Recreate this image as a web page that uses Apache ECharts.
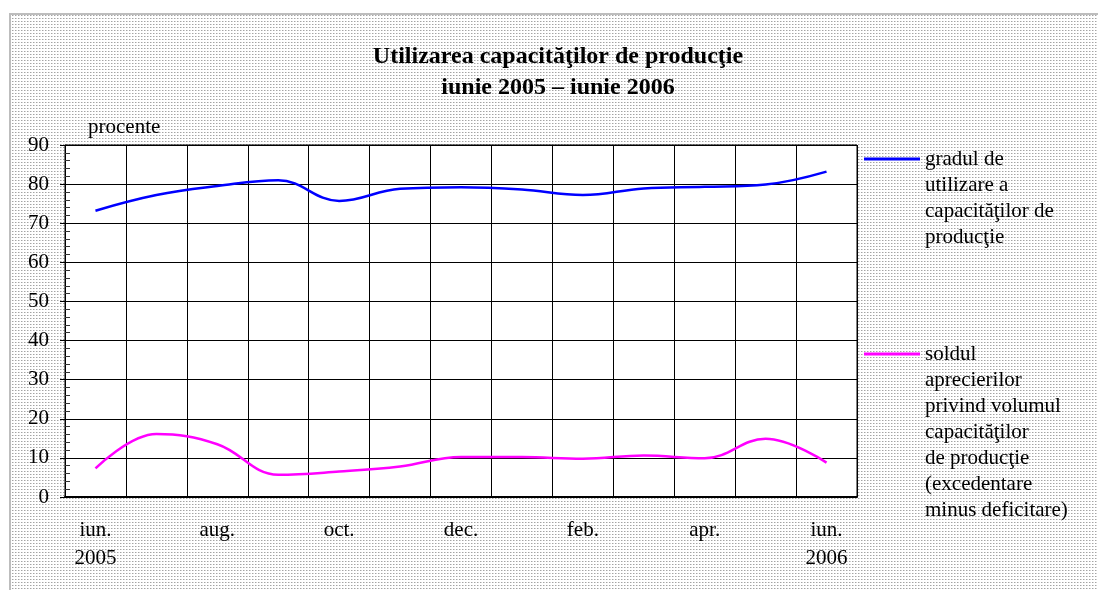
<!DOCTYPE html>
<html>
<head>
<meta charset="utf-8">
<script src="https://cdn.jsdelivr.net/npm/echarts@6/dist/echarts.min.js"></script>
<style>
html,body{margin:0;padding:0;background:#fff;}
#chart{width:1098px;height:590px;}
</style>
</head>
<body>
<div id="chart"></div>
<script>
// ---- data ----
const months = ['iun. 2005','iul.','aug.','sep.','oct.','nov.','dec.','ian.','feb.','mar.','apr.','mai','iun. 2006'];
const tickLabels = ['iun.\n2005','','aug.','','oct.','','dec.','','feb.','','apr.','','iun.\n2006'];
const utilizare = [73.2, 77.2, 79.5, 81.0, 75.7, 78.8, 79.2, 78.6, 77.2, 78.9, 79.3, 79.9, 83.2];
const sold = [7.3, 16.1, 13.5, 5.7, 6.5, 7.8, 10.2, 10.2, 9.8, 10.6, 9.9, 14.9, 8.8];
const yTicks = {min: 0, max: 90, interval: 10};
const nameUtil = 'gradul de\nutilizare a\ncapacităţilor de\nproducţie';
const nameSold = 'soldul\naprecierilor\nprivind volumul\ncapacităţilor\nde producţie\n(excedentare\nminus deficitare)';
const titleText = 'Utilizarea capacităţilor de producţie\niunie 2005 – iunie 2006';

// ---- pattern ----
const tile = document.createElement('canvas');
tile.width = 3; tile.height = 3;
const tctx = tile.getContext('2d');
tctx.fillStyle = '#ffffff'; tctx.fillRect(0,0,3,3);
tctx.fillStyle = '#a4a4a4'; tctx.fillRect(0,0,1,1);
tctx.fillStyle = '#d4d4d4'; tctx.fillRect(1,0,1,1);

const FONT = "'Liberation Serif', 'Times New Roman', serif";
const LH = 26;
// pad text above so that the first line sits level with the legend key
function legendFmt(name) {
  const n = name.split('\n').length;
  return '\n'.repeat(n - 1) + name;
}

const chart = echarts.init(document.getElementById('chart'), null, {renderer: 'canvas'});
chart.setOption({
  backgroundColor: '#ffffff',
  animation: false,
  textStyle: {fontFamily: FONT, color: '#000'},
  graphic: [{
    type: 'rect', z: -100, silent: true,
    shape: {x: 10, y: 14, width: 1200, height: 700},
    style: {fill: {type: 'pattern', image: tile, repeat: 'repeat'}, stroke: '#bdbdbd', lineWidth: 2}
  }],
  title: {
    text: titleText,
    left: 553, top: 36,
    textAlign: 'center',
    padding: 5,
    textStyle: {fontFamily: FONT, fontWeight: 'bold', fontSize: 24, lineHeight: 31, color: '#000'}
  },
  legend: [{
    data: [{name: nameUtil}],
    left: 859, top: 63, orient: 'vertical',
    icon: 'rect', itemWidth: 56, itemHeight: 3, itemGap: 0,
    selectedMode: false,
    formatter: legendFmt,
    textStyle: {fontFamily: FONT, fontSize: 21, lineHeight: LH, color: '#000'}
  }, {
    data: [{name: nameSold}],
    left: 859, top: 180, orient: 'vertical',
    icon: 'rect', itemWidth: 56, itemHeight: 3, itemGap: 0,
    selectedMode: false,
    formatter: legendFmt,
    textStyle: {fontFamily: FONT, fontSize: 21, lineHeight: LH, color: '#000'}
  }],
  grid: {
    left: 65, right: 241, top: 145, bottom: 93,
    show: true, backgroundColor: '#ffffff', borderColor: '#000', borderWidth: 1,
    containLabel: false
  },
  xAxis: {
    type: 'category',
    data: months,
    boundaryGap: true,
    axisLine: {lineStyle: {color: '#000', width: 2}},
    axisTick: {show: false},
    splitLine: {show: true, interval: 0, lineStyle: {color: '#000', width: 1}},
    axisLabel: {
      interval: 0, margin: 19, fontFamily: FONT, fontSize: 21, lineHeight: 28, color: '#000',
      formatter: function (v, i) { return tickLabels[i]; }
    }
  },
  yAxis: {
    type: 'value',
    min: yTicks.min, max: yTicks.max, interval: yTicks.interval,
    name: 'procente',
    nameLocation: 'end',
    nameGap: 18,
    nameTextStyle: {fontFamily: FONT, fontSize: 21, color: '#000', align: 'left', verticalAlign: 'middle', padding: [0, 0, 0, 23]},
    axisLine: {show: true, lineStyle: {color: '#000', width: 1}},
    axisTick: {show: true, inside: false, length: 5, lineStyle: {color: '#000'}},
    minorTick: {show: true, splitNumber: 5, length: -5, lineStyle: {color: '#333'}},
    splitLine: {show: true, lineStyle: {color: '#000', width: 1}},
    axisLabel: {margin: 16, fontFamily: FONT, fontSize: 21, color: '#000'}
  },
  series: [{
    name: nameUtil, type: 'line', data: utilizare, smooth: 0.4,
    showSymbol: false, symbol: 'none',
    lineStyle: {color: '#0000ff', width: 2.5}, itemStyle: {color: '#0000ff'}
  }, {
    name: nameSold, type: 'line', data: sold, smooth: 0.4,
    showSymbol: false, symbol: 'none',
    lineStyle: {color: '#ff00ff', width: 2.5}, itemStyle: {color: '#ff00ff'}
  }]
});
</script>
</body>
</html>
